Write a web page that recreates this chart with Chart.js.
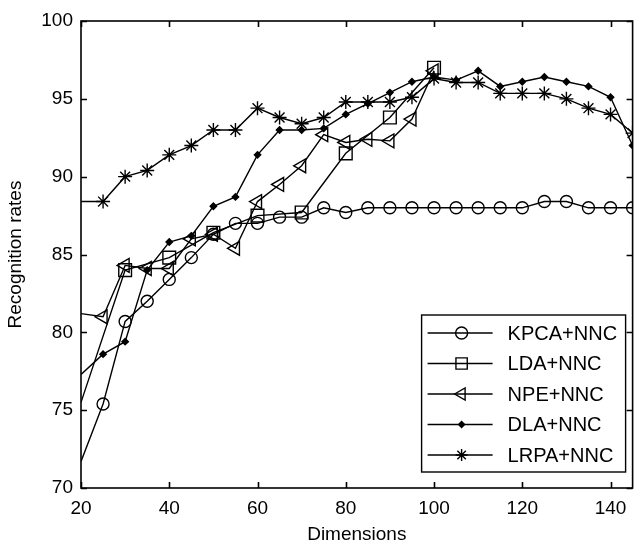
<!DOCTYPE html>
<html>
<head>
<meta charset="utf-8">
<script src="https://cdn.jsdelivr.net/npm/chart.js@4"></script>
<style>
  html, body { margin: 0; padding: 0; background: #fff; }
</style>
</head>
<body>
<canvas id="chart" width="643" height="548"></canvas>
<script>
// dimensions on the x axis (first point sits on the left edge, no marker)
const dims = [20, 25, 30, 35, 40, 45, 50, 55, 60, 65, 70, 75, 80, 85, 90, 95, 100, 105, 110, 115, 120, 125, 130, 135, 140, 145];
const ldaDims = [20, 30, 40, 50, 60, 70, 80, 90, 100];
const npeDims = [20, 25, 30, 35, 40, 45, 50, 55, 60, 65, 70, 75, 80, 85, 90, 95, 100];

// recognition rates (%)
const kpca = [71.7, 75.4, 80.7, 82.0, 83.4, 84.8, 86.3, 87.0, 87.0, 87.4, 87.4, 88.0, 87.7, 88.0, 88.0, 88.0, 88.0, 88.0, 88.0, 88.0, 88.0, 88.4, 88.4, 88.0, 88.0, 88.0];
const lda = [75.5, 84.0, 84.8, 86.4, 87.5, 87.7, 91.5, 93.8, 97.0];
const npe = [81.2, 81.0, 84.3, 84.1, 84.1, 86.0, 86.3, 85.4, 88.4, 89.5, 90.7, 92.7, 92.2, 92.4, 92.3, 93.7, 96.8];
const dla = [77.3, 78.6, 79.4, 84.0, 85.8, 86.2, 88.1, 88.7, 91.4, 93.0, 93.0, 93.1, 94.0, 94.7, 95.4, 96.1, 96.4, 96.2, 96.8, 95.8, 96.1, 96.4, 96.1, 95.8, 95.1, 92.0];
const lrpa = [88.4, 88.4, 90.0, 90.4, 91.4, 92.0, 93.0, 93.0, 94.4, 93.8, 93.4, 93.8, 94.8, 94.8, 94.8, 95.1, 96.3, 96.05, 96.05, 95.35, 95.35, 95.35, 95.0, 94.4, 94.0, 92.8];

const labels = ['KPCA+NNC', 'LDA+NNC', 'NPE+NNC', 'DLA+NNC', 'LRPA+NNC'];

const xTicks = [20, 40, 60, 80, 100, 120, 140];
const yTicks = [70, 75, 80, 85, 90, 95, 100];

const FONT = '"Liberation Sans", Arial, Helvetica, sans-serif';

function pts(xs, ys) {
    return xs.map((d, i) => ({ x: d, y: ys[i] }));
}

// hide marker of the edge point
function radius(r) {
    return ctx => ctx.dataIndex === 0 ? 0 : r;
}

function series(label, data, style, r, extra) {
    return Object.assign({
        label: label,
        data: data,
        borderColor: '#000',
        borderWidth: 1.4,
        pointStyle: style,
        pointRadius: radius(r),
        pointBorderColor: '#000',
        pointBackgroundColor: 'rgba(0,0,0,0)',
        pointBorderWidth: 1.4,
        tension: 0,
        fill: false
    }, extra || {});
}

// box around the plot with inward ticks, like matlab
const boxPlugin = {
    id: 'box',
    afterDatasetsDraw(chart) {
        const { ctx, chartArea: a, scales: { x, y } } = chart;
        ctx.save();
        ctx.strokeStyle = '#000';
        ctx.lineWidth = 1.6;
        ctx.strokeRect(a.left, a.top, a.right - a.left, a.bottom - a.top);
        ctx.beginPath();
        x.ticks.forEach(t => {
            const px = Math.round(x.getPixelForValue(t.value)) + 0.5;
            ctx.moveTo(px, a.bottom); ctx.lineTo(px, a.bottom - 6);
            ctx.moveTo(px, a.top); ctx.lineTo(px, a.top + 6);
        });
        y.ticks.forEach(t => {
            const py = Math.round(y.getPixelForValue(t.value)) + 0.5;
            ctx.moveTo(a.left, py); ctx.lineTo(a.left + 6, py);
            ctx.moveTo(a.right, py); ctx.lineTo(a.right - 6, py);
        });
        ctx.stroke();
        ctx.restore();
    }
};

// legend box in the lower right corner
const legendPlugin = {
    id: 'mLegend',
    afterDraw(chart) {
        const { ctx, chartArea: a } = chart;
        const right = a.right - 7, bottom = a.bottom - 16;
        const w = 204, h = 157;
        const left = right - w, top = bottom - h;
        ctx.save();
        ctx.fillStyle = '#fff';
        ctx.fillRect(left, top, w, h);
        ctx.strokeStyle = '#000';
        ctx.lineWidth = 1.4;
        ctx.strokeRect(left, top, w, h);
        ctx.font = '20px ' + FONT;
        ctx.textBaseline = 'middle';
        chart.data.datasets.forEach((ds, i) => {
            const yy = top + 18 + i * 30.5;
            ctx.beginPath();
            ctx.moveTo(left + 6, yy);
            ctx.lineTo(left + 71, yy);
            ctx.strokeStyle = '#000';
            ctx.lineWidth = 1.4;
            ctx.stroke();
            ctx.fillStyle = ds.pointStyle === 'rectRot' ? '#000' : 'rgba(0,0,0,0)';
            Chart.helpers.drawPoint(ctx, {
                pointStyle: ds.pointStyle,
                radius: ds.legendRadius,
                rotation: ds.pointRotation || 0,
                borderWidth: 1.3
            }, left + 40, yy);
            ctx.fillStyle = '#000';
            ctx.fillText(ds.label, left + 86, yy + 1);
        });
        ctx.restore();
    }
};

new Chart(document.getElementById('chart').getContext('2d'), {
    type: 'line',
    data: {
        datasets: [
            series(labels[0], pts(dims, kpca), 'circle', 6, { legendRadius: 6 }),
            series(labels[1], pts(ldaDims, lda), 'rect', 9, { legendRadius: 8 }),
            series(labels[2], pts(npeDims, npe), 'triangle', 8, { pointRotation: -90, legendRadius: 7 }),
            series(labels[3], pts(dims, dla), 'rectRot', 3.2, { pointBackgroundColor: '#000', legendRadius: 3 }),
            series(labels[4], pts(dims, lrpa), 'star', 7, { legendRadius: 6 })
        ]
    },
    options: {
        responsive: false,
        animation: false,
        devicePixelRatio: 1,
        layout: { padding: { top: 21, right: 6, left: 0, bottom: 0 } },
        plugins: {
            legend: { display: false },
            tooltip: { enabled: false }
        },
        scales: {
            x: {
                type: 'linear',
                min: 20,
                max: 145,
                afterBuildTicks: s => { s.ticks = xTicks.map(v => ({ value: v })); },
                afterFit: s => { s.height = 60; },
                grid: { display: false, drawTicks: false },
                border: { display: false },
                ticks: { color: '#000', padding: 9, font: { family: FONT, size: 19 }, maxRotation: 0 },
                title: { display: true, text: 'Dimensions', color: '#000', font: { family: FONT, size: 19 }, padding: { top: 0, bottom: 2 } }
            },
            y: {
                min: 70,
                max: 100,
                afterBuildTicks: s => { s.ticks = yTicks.map(v => ({ value: v })); },
                afterFit: s => { s.width = 81; },
                grid: { display: false, drawTicks: false },
                border: { display: false },
                ticks: { color: '#000', padding: 8, font: { family: FONT, size: 19 } },
                title: { display: true, text: 'Recognition rates', color: '#000', font: { family: FONT, size: 19 }, padding: { top: 4, bottom: 0 } }
            }
        }
    },
    plugins: [boxPlugin, legendPlugin]
});
</script>
</body>
</html>
